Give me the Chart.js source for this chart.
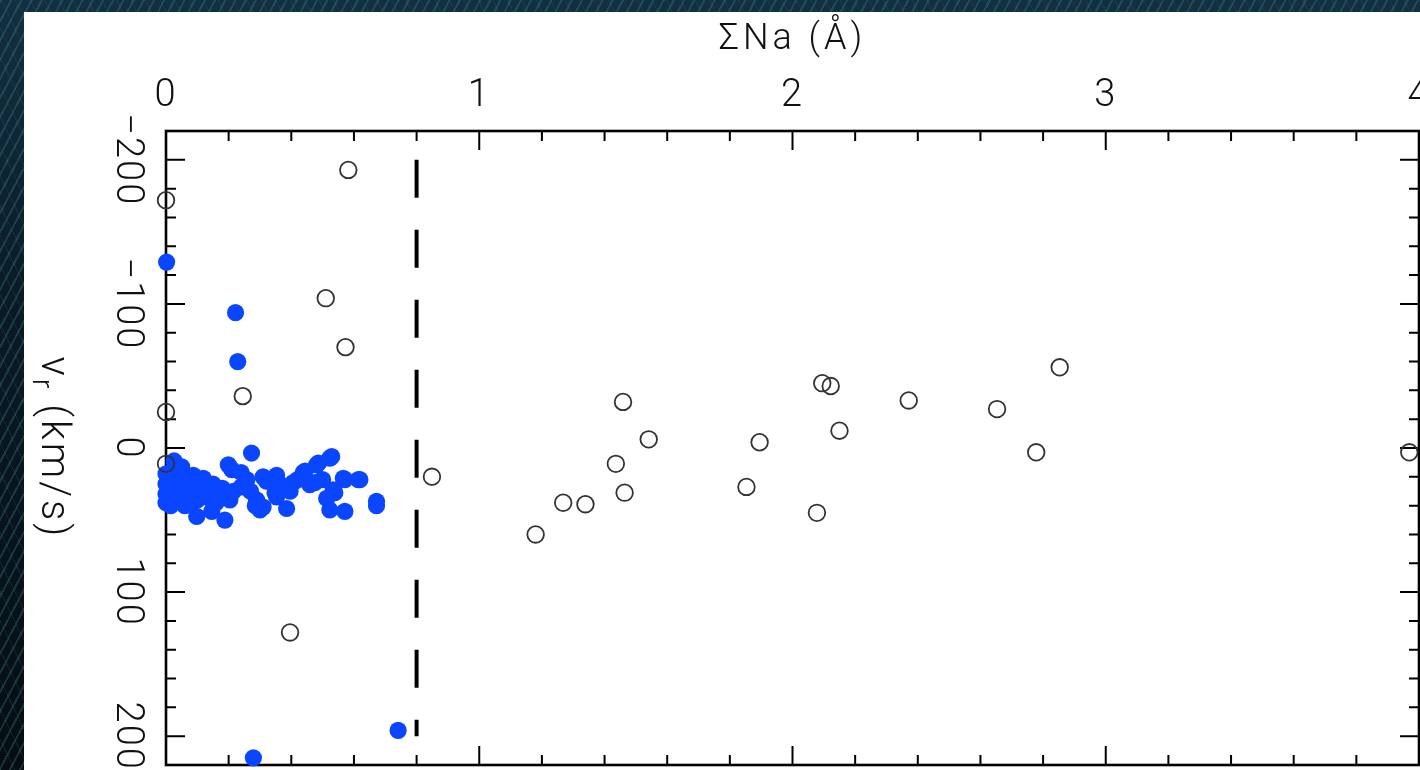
<!DOCTYPE html>
<html>
<head>
<meta charset="utf-8">
<script src="https://cdn.jsdelivr.net/npm/chart.js@4.4.1/dist/chart.umd.min.js"></script>
<style>
  html, body { margin: 0; padding: 0; width: 1420px; height: 770px; overflow: hidden; }
  body {
    background:
      repeating-linear-gradient(118deg, rgba(70,140,160,0.28) 0 2px, rgba(0,0,0,0) 2px 9px),
      repeating-linear-gradient(64deg, rgba(40,90,120,0.25) 0 1px, rgba(0,0,0,0) 1px 13px),
      linear-gradient(180deg, #123040 0%, #0a1a24 40%, #050d12 100%);
  }
  #panel { position: absolute; left: 24px; top: 12px; width: 1396px; height: 758px; background: #ffffff; }
  #c { position: absolute; left: 0; top: 0; }
</style>
</head>
<body>
<div id="panel"></div>
<canvas id="c" width="1420" height="770"></canvas>
<script>
// Axis ranges and tick labels
const xRange = [0, 4];
const yRange = [-220, 220];
const xTickValues = [0, 1, 2, 3, 4];
const xTickLabels = ['0', '1', '2', '3', '4'];
const yTickValues = [-200, -100, 0, 100, 200];
const yTickLabels = ['\u2212200', '\u2212100', '0', '100', '200'];
const xTitle = '\u03A3Na (\u00C5)';

// Dividing line at ΣNa = 0.8 Å
const dividerNa = [0.8, 0.8];
const dividerVr = [-200, 200];

// Open circles: sightlines with strong Na absorption
const openNa = [0.582, 0.000, 0.510, 0.573, 0.245, 0.000, 0.000, 0.849, 0.396,
                1.459, 1.541, 1.436, 1.464, 1.268, 1.339, 1.180,
                2.095, 2.122, 2.150, 1.895, 1.853, 2.078,
                2.371, 2.653, 2.853, 2.778, 3.969];
const openVr = [-193, -172, -104, -70, -36, -25, 11, 20, 128,
                -32, -6, 11, 31, 38, 39, 60,
                -45, -43, -12, -4, 27, 45,
                -33, -27, -56, 3, 3];

// Filled circles: weak-absorption sample
const filledNa = [0.002, 0.222, 0.229, 0.741, 0.279,
                  0.026, 0.050, 0.273, 0.199, 0.523, 0.481, 0.529, 0.486,
                  0.619, 0.566, 0.571, 0.614, 0.672, 0.672,
                  0.098, 0.146, 0.188, 0.300, 0.385, 0.523, 0.571,
                  0.289, 0.332, 0.353, 0.438, 0.444, 0.406, 0.310, 0.258, 0.215,
                  0.119, 0.087, 0.130, 0.204, 0.353, 0.396, 0.459, 0.475, 0.513,
                  0.534, 0.539, 0.348, 0.310, 0.321,
                  0.000, 0.000, 0.000, 0.000, 0.010, 0.010, 0.020, 0.015, 0.020,
                  0.030, 0.040, 0.050, 0.060, 0.070, 0.080, 0.070, 0.100, 0.150,
                  0.160, 0.110, 0.060, 0.240, 0.270, 0.370, 0.420, 0.500, 0.210,
                  0.240, 0.285, 0.155, 0.180];
const filledVr = [-129, -94, -60, 196, 215,
                  9, 13, 3.5, 11.7, 7, 11.7, 6, 10.5,
                  22, 21, 22, 22, 37, 40,
                  47.5, 44, 50, 43, 42, 43, 44,
                  36, 23, 19, 17, 16, 24, 20, 22, 30,
                  21, 19, 34, 36, 34, 30, 25.5, 24, 35,
                  29, 31, 31, 41, 23,
                  18, 25, 32, 38, 22, 30, 35, 40, 27,
                  17, 25, 33, 22, 30, 38, 28, 36, 25,
                  38, 26, 40, 27, 30, 26, 22, 22, 15,
                  17, 40, 31, 28];

const toPoints = (xs, ys) => xs.map((x, i) => ({ x: x, y: ys[i] }));

const FONT = 'Roboto, "DejaVu Sans", sans-serif';
const INK = '#111111';

// Boxed axes with inward ticks and rotated y labels
const framePlugin = {
  id: 'frame',
  beforeDatasetsDraw(chart) {
    const { ctx, chartArea: a, scales: { x, y } } = chart;
    ctx.save();
    ctx.strokeStyle = '#000';
    ctx.lineWidth = 2.6;
    ctx.strokeRect(a.left, a.top, a.right - a.left, a.bottom - a.top);

    ctx.lineWidth = 2;
    ctx.beginPath();
    for (let i = 1; i < 20; i++) {
      const v = xRange[0] + i / 5;
      const px = x.getPixelForValue(v);
      const len = (i % 5 === 0) ? 19 : 10;
      ctx.moveTo(px, a.top); ctx.lineTo(px, a.top + len);
      ctx.moveTo(px, a.bottom); ctx.lineTo(px, a.bottom - len);
    }
    for (let i = -10; i <= 10; i++) {
      const v = i * 20;
      const py = y.getPixelForValue(v);
      const len = (v % 100 === 0) ? 19 : 10;
      ctx.moveTo(a.left, py); ctx.lineTo(a.left + len, py);
      ctx.moveTo(a.right, py); ctx.lineTo(a.right - len, py);
    }
    ctx.stroke();
    ctx.restore();
  },
  afterDraw(chart) {
    const { ctx, chartArea: a, scales: { x, y } } = chart;
    ctx.save();
    ctx.fillStyle = INK;
    ctx.textBaseline = 'alphabetic';

    // x tick labels along the top
    ctx.font = '300 38px ' + FONT;
    ctx.letterSpacing = '2px';
    ctx.textAlign = 'center';
    xTickValues.forEach((v, i) => {
      ctx.fillText(xTickLabels[i], x.getPixelForValue(v), 106);
    });

    // y tick labels, rotated to read downward
    yTickValues.forEach((v, i) => {
      ctx.save();
      ctx.translate(117, y.getPixelForValue(v));
      ctx.rotate(Math.PI / 2);
      ctx.fillText(yTickLabels[i], 0, 0);
      ctx.restore();
    });

    // x title
    ctx.font = '300 36px ' + FONT;
    ctx.letterSpacing = '4px';
    ctx.fillText(xTitle, (a.left + a.right) / 2, 49);

    // y title with subscript
    ctx.save();
    ctx.translate(42, (a.top + a.bottom) / 2);
    ctx.rotate(Math.PI / 2);
    ctx.textAlign = 'left';
    ctx.letterSpacing = '3px';
    const mainFont = '300 40px ' + FONT;
    const subFont = '300 29px ' + FONT;
    ctx.font = mainFont; const w1 = ctx.measureText('v').width;
    ctx.font = subFont;  const w2 = ctx.measureText('r').width;
    ctx.font = mainFont; const w3 = ctx.measureText(' (km/s)').width;
    let sx = -(w1 + w2 + w3) / 2;
    ctx.font = mainFont; ctx.fillText('v', sx, 0);
    ctx.font = subFont;  ctx.fillText('r', sx + w1, 9);
    ctx.font = mainFont; ctx.fillText(' (km/s)', sx + w1 + w2, 0);
    ctx.restore();

    ctx.restore();
  }
};

new Chart(document.getElementById('c'), {
  type: 'scatter',
  data: {
    datasets: [
      {
        data: toPoints(openNa, openVr),
        order: 0,
        pointRadius: 8.3,
        pointHoverRadius: 8.3,
        pointBackgroundColor: 'rgba(0,0,0,0)',
        pointBorderColor: '#333333',
        pointBorderWidth: 1.8,
        clip: false
      },
      {
        data: toPoints(filledNa, filledVr),
        order: 1,
        pointRadius: 8.6,
        pointHoverRadius: 8.6,
        pointBackgroundColor: '#0a46ff',
        pointBorderWidth: 0,
        clip: false
      },
      {
        data: toPoints(dividerNa, dividerVr),
        order: 2,
        showLine: true,
        borderColor: '#000000',
        borderWidth: 4,
        borderDash: [38, 32],
        pointRadius: 0,
        clip: false
      }
    ]
  },
  options: {
    responsive: false,
    animation: false,
    devicePixelRatio: 1,
    events: [],
    layout: { autoPadding: false, padding: { left: 166, top: 131, right: 1, bottom: 5 } },
    plugins: { legend: { display: false }, tooltip: { enabled: false } },
    scales: {
      x: { type: 'linear', min: xRange[0], max: xRange[1], display: false },
      y: { type: 'linear', min: yRange[0], max: yRange[1], reverse: true, display: false }
    }
  },
  plugins: [framePlugin]
});
</script>
</body>
</html>
